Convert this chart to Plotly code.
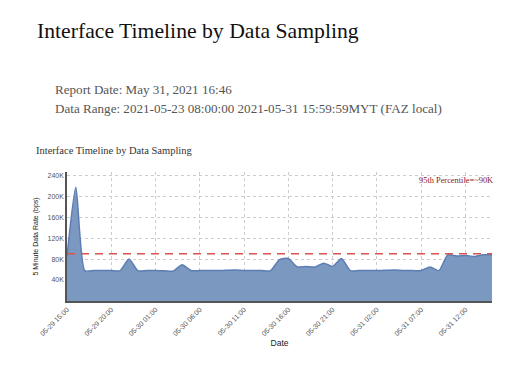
import pandas as pd
import plotly.graph_objects as go

# ---- data ----
start_time = "2021-05-29 15:00"
rate_k = [85, 217, 58, 58, 58, 58, 58, 80, 58, 58, 58, 57.5, 57, 69, 58, 58, 58, 58,
          58.5, 59, 58, 58, 58, 58, 79, 81, 65, 66, 65, 72, 66, 81, 58, 58, 58, 58,
          58.5, 59, 58, 58, 58, 65, 58, 88, 86, 87, 85, 88, 88]
percentile_k = 90
y_ticks_k = [40, 80, 120, 160, 200, 240]
x_tick_labels = ["2021-05-29 15:00", "2021-05-29 20:00", "2021-05-30 01:00", "2021-05-30 06:00",
                 "2021-05-30 11:00", "2021-05-30 16:00", "2021-05-30 21:00", "2021-05-31 02:00",
                 "2021-05-31 07:00", "2021-05-31 12:00"]

times = pd.date_range(start_time, periods=len(rate_k), freq="h")
rates = [v * 1000 for v in rate_k]

fig = go.Figure()
fig.add_trace(go.Scatter(
    x=times, y=rates, mode="lines", line=dict(color="#5b7db3", width=1.5, shape="spline", smoothing=0.6),
    fill="tozeroy", fillcolor="#7b98c0", hoverinfo="x+y", showlegend=False))
fig.add_trace(go.Scatter(
    x=[times[0], times[-1]], y=[percentile_k * 1000] * 2, mode="lines",
    line=dict(color="#d9534f", width=1.5, dash="8px,6px"), showlegend=False))

OFF = 8  # default page body margin
FW, FH = 523 - OFF, 382 - OFF
PL, PR, PT, PB = 67 - OFF, 492 - OFF, 172 - OFF, 301.5 - OFF
W, H = PR - PL, PB - PT
def px(x):
    return (x - OFF - PL) / W
def py(y):
    return (PB - (y - OFF)) / H

serif = "Liberation Serif, Times New Roman, serif"
sans = "Liberation Sans, Arial, sans-serif"
ann = [
    dict(text="Interface Timeline by Data Sampling", x=px(35), y=py(30), font=dict(family=serif, size=21.7, color="#111")),
    dict(text="Report Date: May 31, 2021 16:46", x=px(53), y=py(89), font=dict(family=serif, size=13.1, color="#555")),
    dict(text="Data Range: 2021-05-23 08:00:00 2021-05-31 15:59:59MYT (FAZ local)", x=px(53), y=py(108),
         font=dict(family=serif, size=13.1, color="#555")),
    dict(text="Interface Timeline by Data Sampling", x=px(34), y=py(150), font=dict(family=serif, size=10.5, color="#333")),
    dict(text="95th Percentile=~90K", x=px(417), y=py(181), font=dict(family=serif, size=8.4, color="#8b1a1a")),
]
for a in ann:
    a.update(xref="paper", yref="paper", xanchor="left", yanchor="middle", showarrow=False)

fig.update_layout(
    width=FW, height=FH, autosize=False,
    margin=dict(l=PL, r=FW - PR, t=PT, b=FH - PB),
    paper_bgcolor="white", plot_bgcolor="white",
    annotations=ann,
    xaxis=dict(
        range=[times[0], times[-1]], tickvals=pd.to_datetime(x_tick_labels),
        ticktext=[pd.Timestamp(t).strftime("%m-%d %H:%M") for t in x_tick_labels],
        tickangle=-45, tickfont=dict(family=sans, size=7, color="#555"),
        showgrid=True, gridcolor="#cccccc", griddash="dot", gridwidth=1,
        showline=True, linecolor="#555", linewidth=1.5, ticks="", zeroline=False,
        title=dict(text="Date", font=dict(family=sans, size=8.5, color="#222"), standoff=4),
    ),
    yaxis=dict(
        range=[0, 246000], tickvals=[v * 1000 for v in y_ticks_k],
        ticktext=[f"{v}K" for v in y_ticks_k], tickfont=dict(family=sans, size=7, color="#555"),
        showgrid=True, gridcolor="#cccccc", griddash="dot", gridwidth=1,
        showline=True, linecolor="#555", linewidth=1.5, ticks="", zeroline=False,
        title=dict(text="5 Minute Data Rate (bps)", font=dict(family=sans, size=7, color="#222"), standoff=8),
    ),
)
fig.write_html("out.html")
